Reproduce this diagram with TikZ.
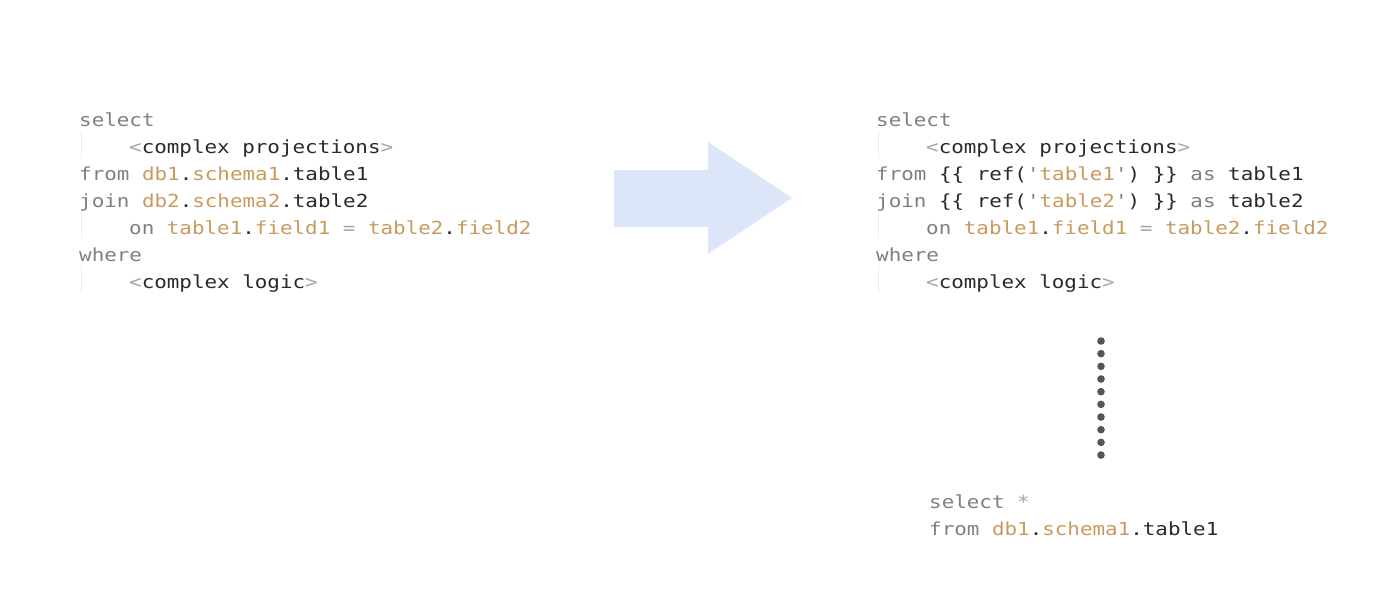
\documentclass[tikz,border=0pt]{standalone}
\usepackage{fontspec}
\usepackage{tikz}
\newfontfamily\codefont[FakeStretch=1.16,Ligatures=TeXOff]{DejaVu Sans Mono}
\definecolor{kwgray}{HTML}{7F7F7F}
\definecolor{idorange}{HTML}{C99A5E}
\definecolor{opgray}{HTML}{A0A4B0}
\definecolor{txtdark}{HTML}{2A2A2A}
\definecolor{arrowblue}{HTML}{DCE6F8}
\definecolor{guidegray}{HTML}{EEEEEE}
\definecolor{dotgray}{HTML}{555555}
\newcommand{\kw}[1]{\textcolor{kwgray}{#1}}
\newcommand{\id}[1]{\textcolor{idorange}{#1}}
\newcommand{\op}[1]{\textcolor{opgray}{#1}}
\newcommand{\qt}{\textcolor{kwgray}{'}}

\begin{document}
\begin{tikzpicture}[x=1pt,y=-1pt,
 code/.style={anchor=base west,inner sep=0pt,text=txtdark,
  font=\codefont\fontsize{18}{27}\selectfont},
 guide/.style={guidegray,line width=1pt}]
\useasboundingbox (0,0) rectangle (1400,613);

% original query
\node[code] (l1) at (79,126) {\kw{select}};
\node[code] (l2) at (129,153) {\op{<}complex projections\op{>}};
\node[code] (l3) at (79,180) {\kw{from} \id{db1}.\id{schema1}.table1};
\node[code] (l4) at (79,207) {\kw{join} \id{db2}.\id{schema2}.table2};
\node[code] (l5) at (129,234) {\kw{on} \id{table1}.\id{field1} \op{=} \id{table2}.\id{field2}};
\node[code] (l6) at (79,261) {\kw{where}};
\node[code] (l7) at (129,288) {\op{<}complex logic\op{>}};
\draw[guide] (81.5,131) -- (81.5,158);
\draw[guide] (81.5,212) -- (81.5,239);
\draw[guide] (81.5,266) -- (81.5,293);

% big arrow
\fill[arrowblue] (614,170) -- (708,170) -- (708,142) -- (792,198)
 -- (708,254) -- (708,227) -- (614,227) -- cycle;

% refactored query
\node[code] (r1) at (876,126) {\kw{select}};
\node[code] (r2) at (926,153) {\op{<}complex projections\op{>}};
\node[code] (r3) at (876,180) {\kw{from} \{\{ ref(\qt\id{table1}\qt) \}\} \kw{as} table1};
\node[code] (r4) at (876,207) {\kw{join} \{\{ ref(\qt\id{table2}\qt) \}\} \kw{as} table2};
\node[code] (r5) at (926,234) {\kw{on} \id{table1}.\id{field1} \op{=} \id{table2}.\id{field2}};
\node[code] (r6) at (876,261) {\kw{where}};
\node[code] (r7) at (926,288) {\op{<}complex logic\op{>}};
\draw[guide] (878.5,131) -- (878.5,158);
\draw[guide] (878.5,212) -- (878.5,239);
\draw[guide] (878.5,266) -- (878.5,293);

% dots
\foreach \i in {0,...,9}
 \fill[dotgray] (1101,341+12.67*\i) circle (3.8);

% staging model
\node[code] (b1) at (929,508) {\kw{select} \op{*}};
\node[code] (b2) at (929,535) {\kw{from} \id{db1}.\id{schema1}.table1};

\end{tikzpicture}
\end{document}
